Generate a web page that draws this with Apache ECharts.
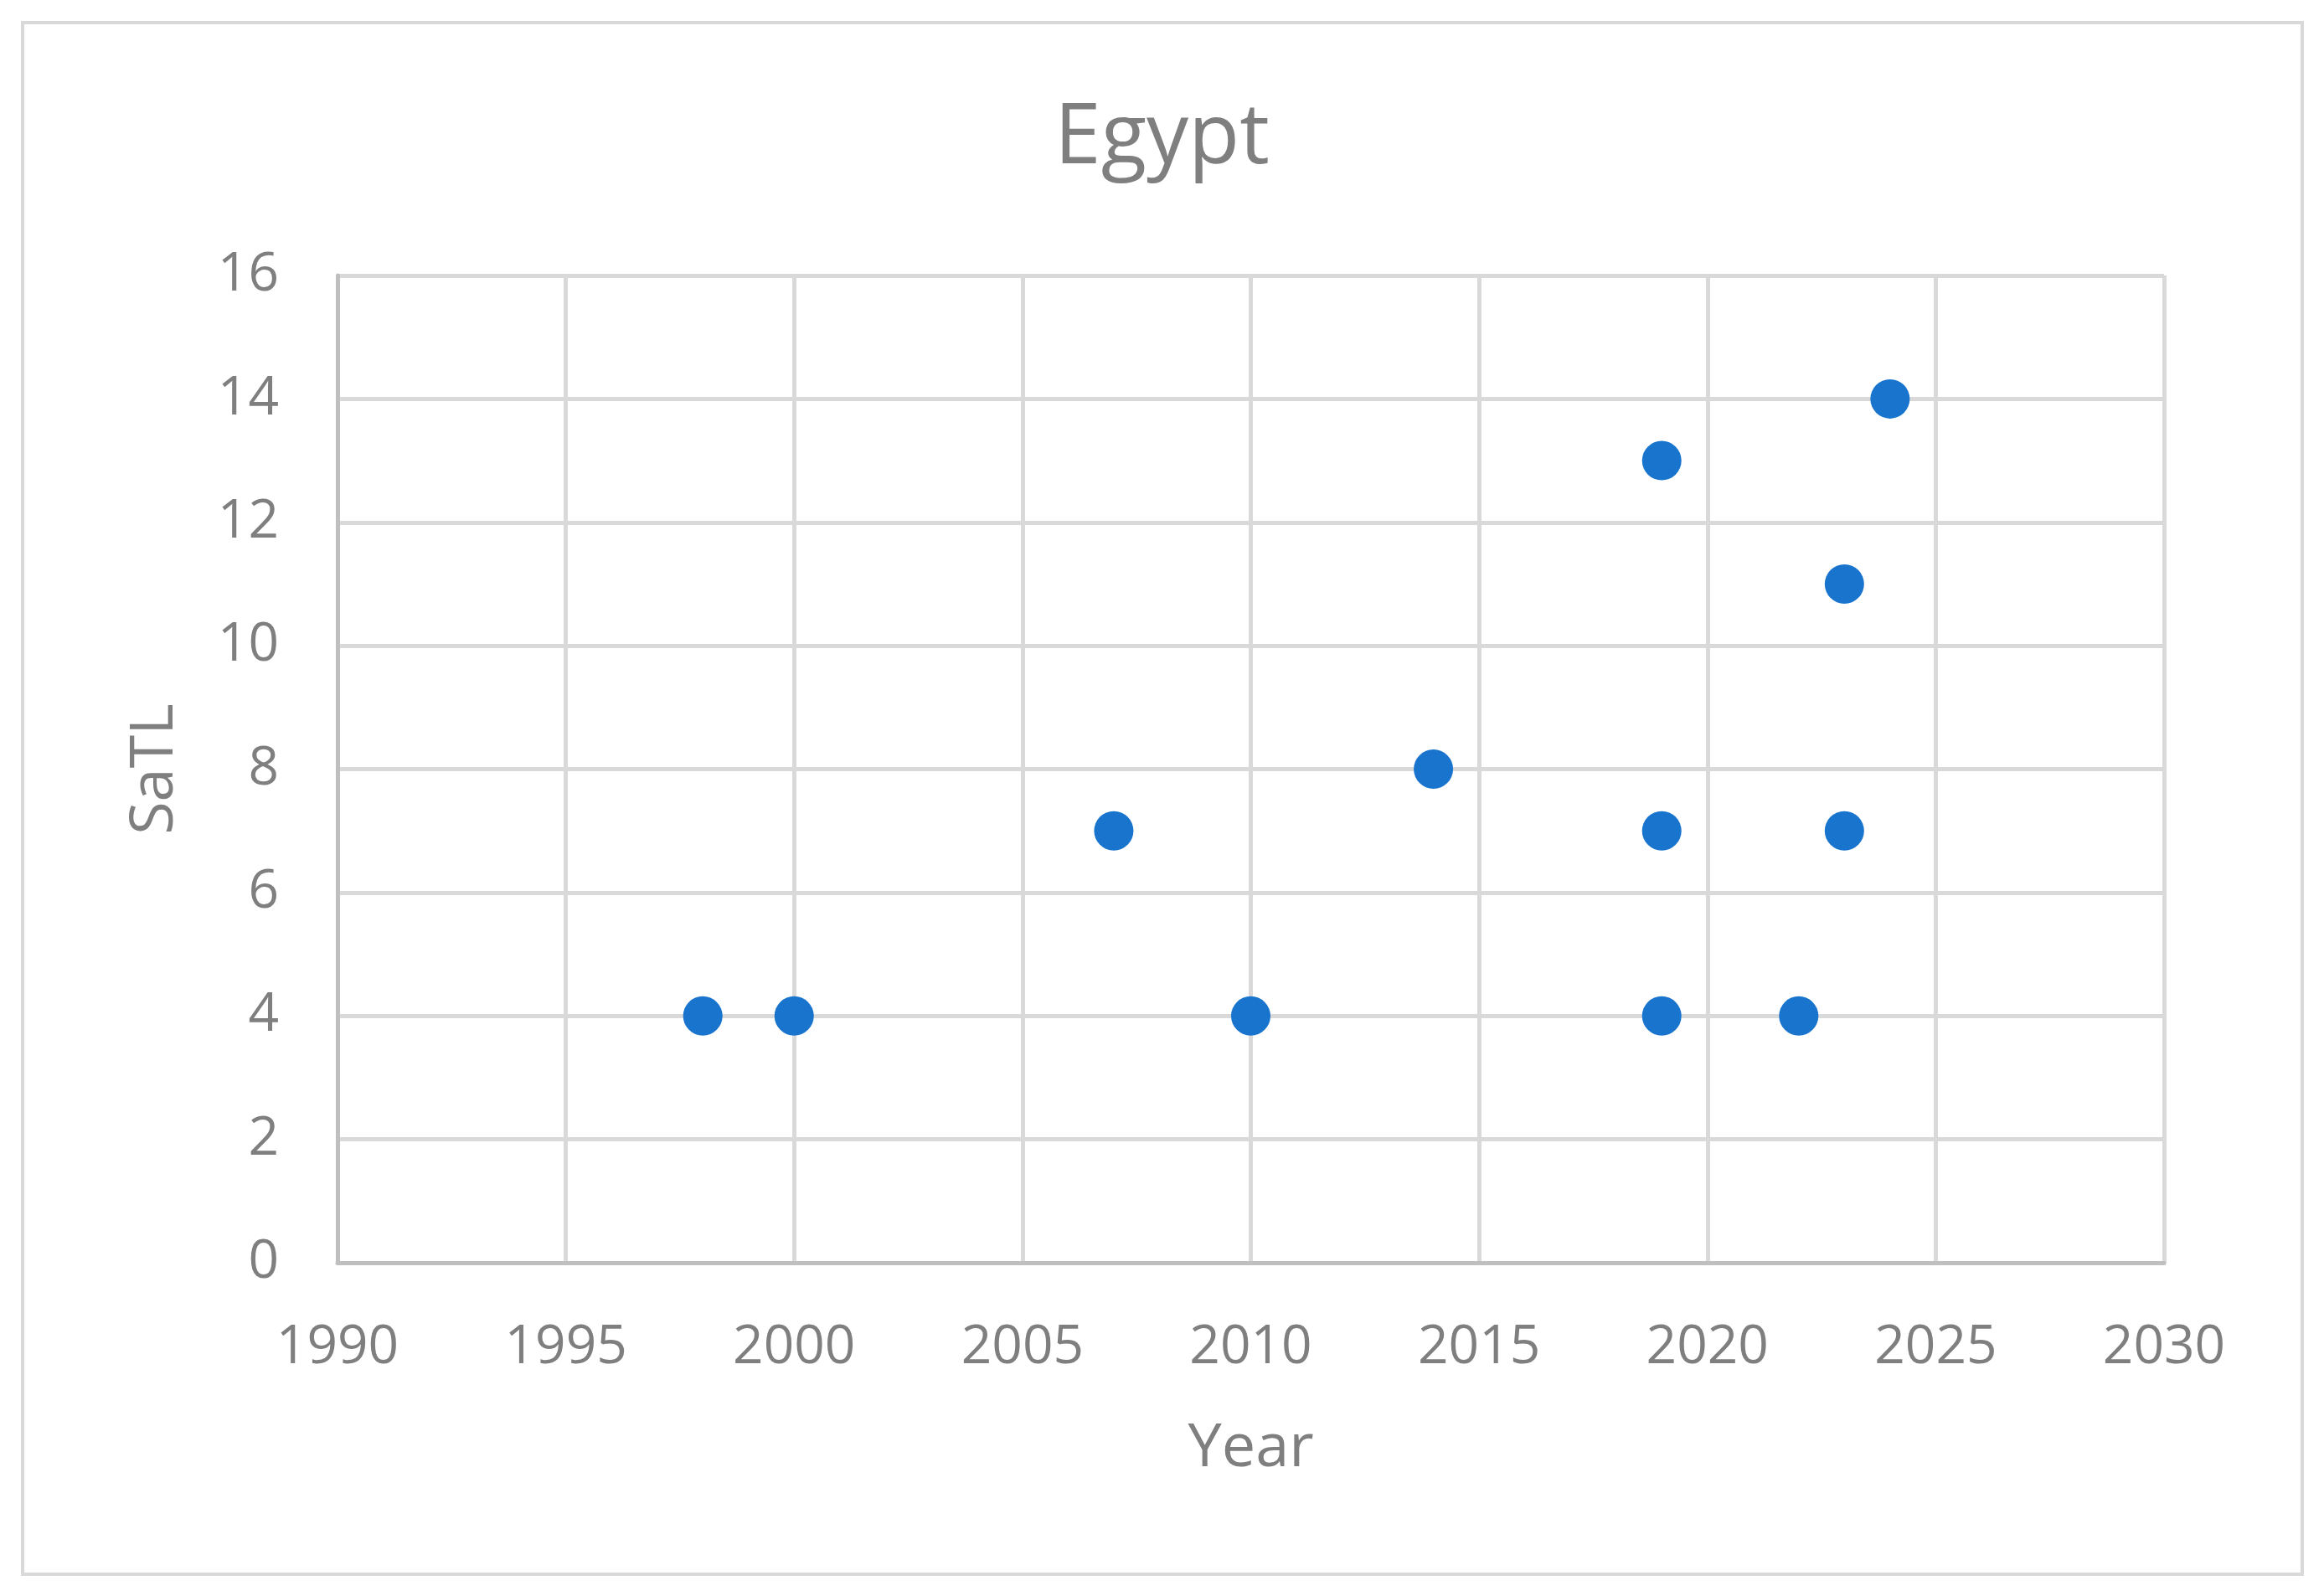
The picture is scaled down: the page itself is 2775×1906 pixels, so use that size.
<!DOCTYPE html>
<html>
<head>
<meta charset="utf-8">
<script src="https://cdn.jsdelivr.net/npm/echarts@6/dist/echarts.min.js"></script>
<style>
html,body{margin:0;padding:0;background:#fff;}
#chart{width:2775px;height:1906px;}
</style>
</head>
<body>
<div id="chart"></div>
<script>
const titleText = 'Egypt';
const xName = 'Year';
const yName = 'SaTL';
const years = [1998, 2000, 2007, 2010, 2014, 2019, 2019, 2019, 2022, 2023, 2023, 2024];
const satl  = [4, 4, 7, 4, 8, 13, 7, 4, 4, 11, 7, 14];

const points = years.map((y, i) => [y, satl[i]]);
const FONT = 'Open Sans';
const GRAY = '#7f7f7f';

const chart = echarts.init(document.getElementById('chart'));
chart.setOption({
  backgroundColor: '#fff',
  animation: false,
  title: {
    text: titleText,
    left: 'center',
    top: 112,
    textStyle: {fontFamily: FONT, fontSize: 100, fontWeight: 'normal', color: GRAY}
  },
  graphic: [{
    type: 'rect',
    shape: {x: 27, y: 27, width: 2722, height: 1853},
    style: {fill: 'none', stroke: '#d9d9d9', lineWidth: 4},
    silent: true
  }],
  grid: {left: 403, right: 191, top: 329, bottom: 398},
  xAxis: {
    type: 'value',
    min: 1990, max: 2030, interval: 5,
    name: xName, nameLocation: 'middle', nameGap: 186,
    nameTextStyle: {fontFamily: FONT, fontSize: 72, color: GRAY},
    axisLine: {show: true, lineStyle: {color: '#bfbfbf', width: 5}},
    axisTick: {show: false},
    axisLabel: {fontFamily: FONT, fontSize: 64, color: GRAY, margin: 70, formatter: v => String(v)},
    splitLine: {show: true, lineStyle: {color: '#d9d9d9', width: 5}}
  },
  yAxis: {
    type: 'value',
    min: 0, max: 16, interval: 2,
    name: yName, nameLocation: 'middle', nameGap: 182,
    nameTextStyle: {fontFamily: FONT, fontSize: 72, color: GRAY},
    axisLine: {show: true, lineStyle: {color: '#bfbfbf', width: 5}},
    axisTick: {show: false},
    axisLabel: {fontFamily: FONT, fontSize: 64, color: GRAY, margin: 70},
    splitLine: {show: true, lineStyle: {color: '#d9d9d9', width: 5}}
  },
  series: [{
    type: 'scatter',
    data: points,
    symbol: 'circle',
    symbolSize: 47,
    itemStyle: {color: '#1874cd', opacity: 1}
  }]
});
</script>
</body>
</html>
